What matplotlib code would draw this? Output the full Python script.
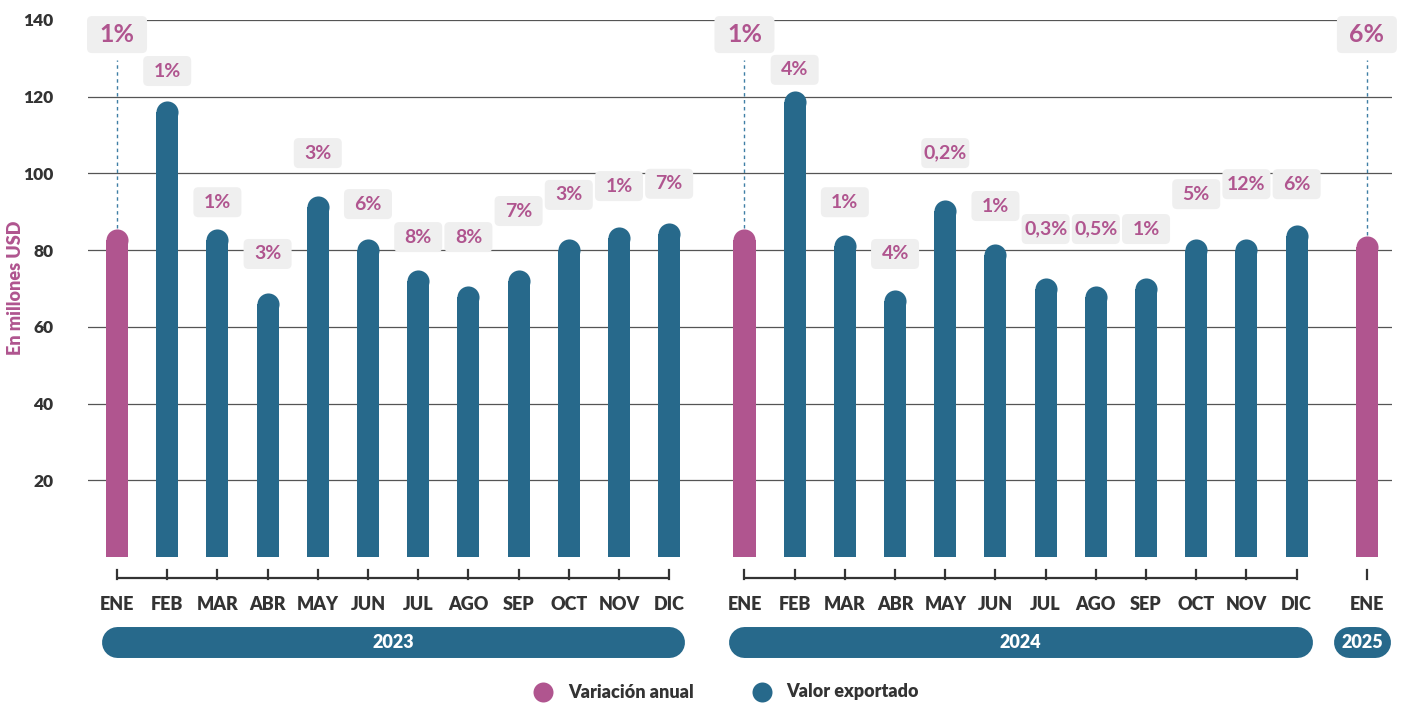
import matplotlib.pyplot as plt
import matplotlib.transforms as mtransforms
from matplotlib.patches import FancyBboxPatch

plt.rcParams['font.family'] = ['Lato', 'DejaVu Sans']
plt.rcParams['font.weight'] = 'bold'

# data
meses = ['ENE', 'FEB', 'MAR', 'ABR', 'MAY', 'JUN', 'JUL', 'AGO', 'SEP', 'OCT', 'NOV', 'DIC']
valor_2023 = [85.4, 118.8, 85.4, 68.8, 94.0, 83.0, 74.7, 70.6, 74.7, 83.0, 86.0, 87.2]
valor_2024 = [85.4, 121.6, 83.9, 69.5, 93.0, 81.5, 72.7, 70.6, 72.7, 83.0, 83.0, 86.5]
valor_2025 = [83.6]
var_2023 = ['1%', '1%', '1%', '3%', '3%', '6%', '8%', '8%', '7%', '3%', '1%', '7%']
var_2024 = ['1%', '4%', '1%', '4%', '0,2%', '1%', '0,3%', '0,5%', '1%', '5%', '12%', '6%']
var_2025 = ['6%']
anios = ['2023', '2024', '2025']

# label heights (layout, in chart units)
lab_y_2023 = [136.2, 126.7, 92.5, 79.0, 105.3, 92.0, 83.4, 83.4, 90.2, 94.4, 96.7, 97.3]
lab_y_2024 = [136.2, 127.0, 92.5, 79.0, 105.3, 91.5, 85.5, 85.5, 85.5, 94.6, 97.2, 97.2]
lab_y_2025 = [136.2]

PINK = '#b0558f'
BLUE = '#27698b'
DARK = '#333333'
BOXC = '#efefef'

fig = plt.figure(figsize=(14.05, 7.06), dpi=100)
ax = fig.add_axes([88 / 1405, 1 - 557 / 706, (1392 - 88) / 1405, (557 - 20) / 706])
ax.set_xlim(-0.578, 25.4)
ax.set_ylim(0, 140)

x23 = [i for i in range(12)]
x24 = [12.5 + i for i in range(12)]
x25 = [24.9]

xs = x23 + x24 + x25
vals = valor_2023 + valor_2024 + valor_2025
labs = var_2023 + var_2024 + var_2025
laby = lab_y_2023 + lab_y_2024 + lab_y_2025
months = meses + meses + ['ENE']
colors = [PINK] + [BLUE] * 11 + [PINK] + [BLUE] * 11 + [PINK]
is_ene = [m == 'ENE' for m in months]

# grid
for g in range(20, 141, 20):
    ax.axhline(g, color='#555555', lw=0.9, zorder=1)
ax.set_yticks(range(20, 141, 20))
ax.set_xticks([])
ax.tick_params(axis='y', length=0, pad=25, labelsize=12.5, labelcolor=DARK)
for lab in ax.get_yticklabels():
    lab.set_fontweight('heavy')
for s in ax.spines.values():
    s.set_visible(False)
fig.text(16 / 1405, 1 - 288 / 706, 'En millones USD', color=PINK, fontsize=13,
         fontweight='heavy', rotation=90, ha='center', va='center')

# bars with rounded tops
r = 11 / 3.836
bw = 0.44
ax.bar(xs, [v - r for v in vals], width=bw, color=colors, lw=0, zorder=2)
for x, v, c in zip(xs, vals, colors):
    ax.plot(x, v - r, 'o', ms=15.9, color=c, mec='none', zorder=2)

# variation labels
for x, v, t, y, big in zip(xs, vals, labs, laby, is_ene):
    w, h, fs = (0.60, 0.37, 18) if big else (0.48, 0.30, 14)
    tr = fig.dpi_scale_trans + mtransforms.ScaledTranslation(x, y, ax.transData)
    box = FancyBboxPatch((-w / 2, -h / 2), w, h, boxstyle='round,pad=0,rounding_size=0.05',
                         fc=BOXC, ec='none', transform=tr, clip_on=False, zorder=4)
    ax.add_patch(box)
    ax.text(x, y, t, color=PINK, fontsize=fs, fontweight='bold', ha='center', va='center',
            zorder=5, clip_on=False)
    if big:
        ax.plot([x, x], [v + 0.3, y - 6.5], color='#3f7fa5', lw=1, ls=(0, (2.5, 2.5)), zorder=1.5)

# bottom axis: brackets, month labels, year pills
bt = mtransforms.blended_transform_factory(ax.transData, fig.dpi_scale_trans)
def py(p):
    return (706 - p) / 100

for grp in (x23, x24):
    ax.plot([grp[0], grp[-1]], [py(578), py(578)], color=DARK, lw=1.6, transform=bt,
            clip_on=False, solid_capstyle='butt')
for x in xs:
    ax.plot([x, x], [py(570), py(578.8)], color=DARK, lw=1.6, transform=bt, clip_on=False)
for x, m in zip(xs, months):
    ax.text(x, py(604), m, transform=bt, ha='center', va='center', fontsize=13,
            fontweight='heavy', color=DARK)

pills = [(x23[0], x23[-1]), (x24[0], x24[-1]), (24.55, 25.07)]
for (a, b), yr in zip(pills, anios):
    ax.plot([a, b], [py(641.5), py(641.5)], color=BLUE, lw=22.3, solid_capstyle='round',
            transform=bt, clip_on=False)
    ax.text((a + b) / 2, py(642), yr, transform=bt, ha='center', va='center', fontsize=13,
            fontweight='heavy', color='white')

# legend
fig.lines.append(plt.Line2D([543 / 1405], [1 - 692 / 706], marker='o', ms=14.4, color=PINK,
                            mec='none', transform=fig.transFigure))
fig.lines.append(plt.Line2D([762 / 1405], [1 - 692 / 706], marker='o', ms=14.4, color=BLUE,
                            mec='none', transform=fig.transFigure))
fig.text(568 / 1405, 1 - 692 / 706, 'Variación anual', ha='left', va='center', fontsize=13,
         fontweight='heavy', color=DARK)
fig.text(786 / 1405, 1 - 692 / 706, 'Valor exportado', ha='left', va='center', fontsize=13,
         fontweight='heavy', color=DARK)

fig.savefig('out.png', dpi=100)
